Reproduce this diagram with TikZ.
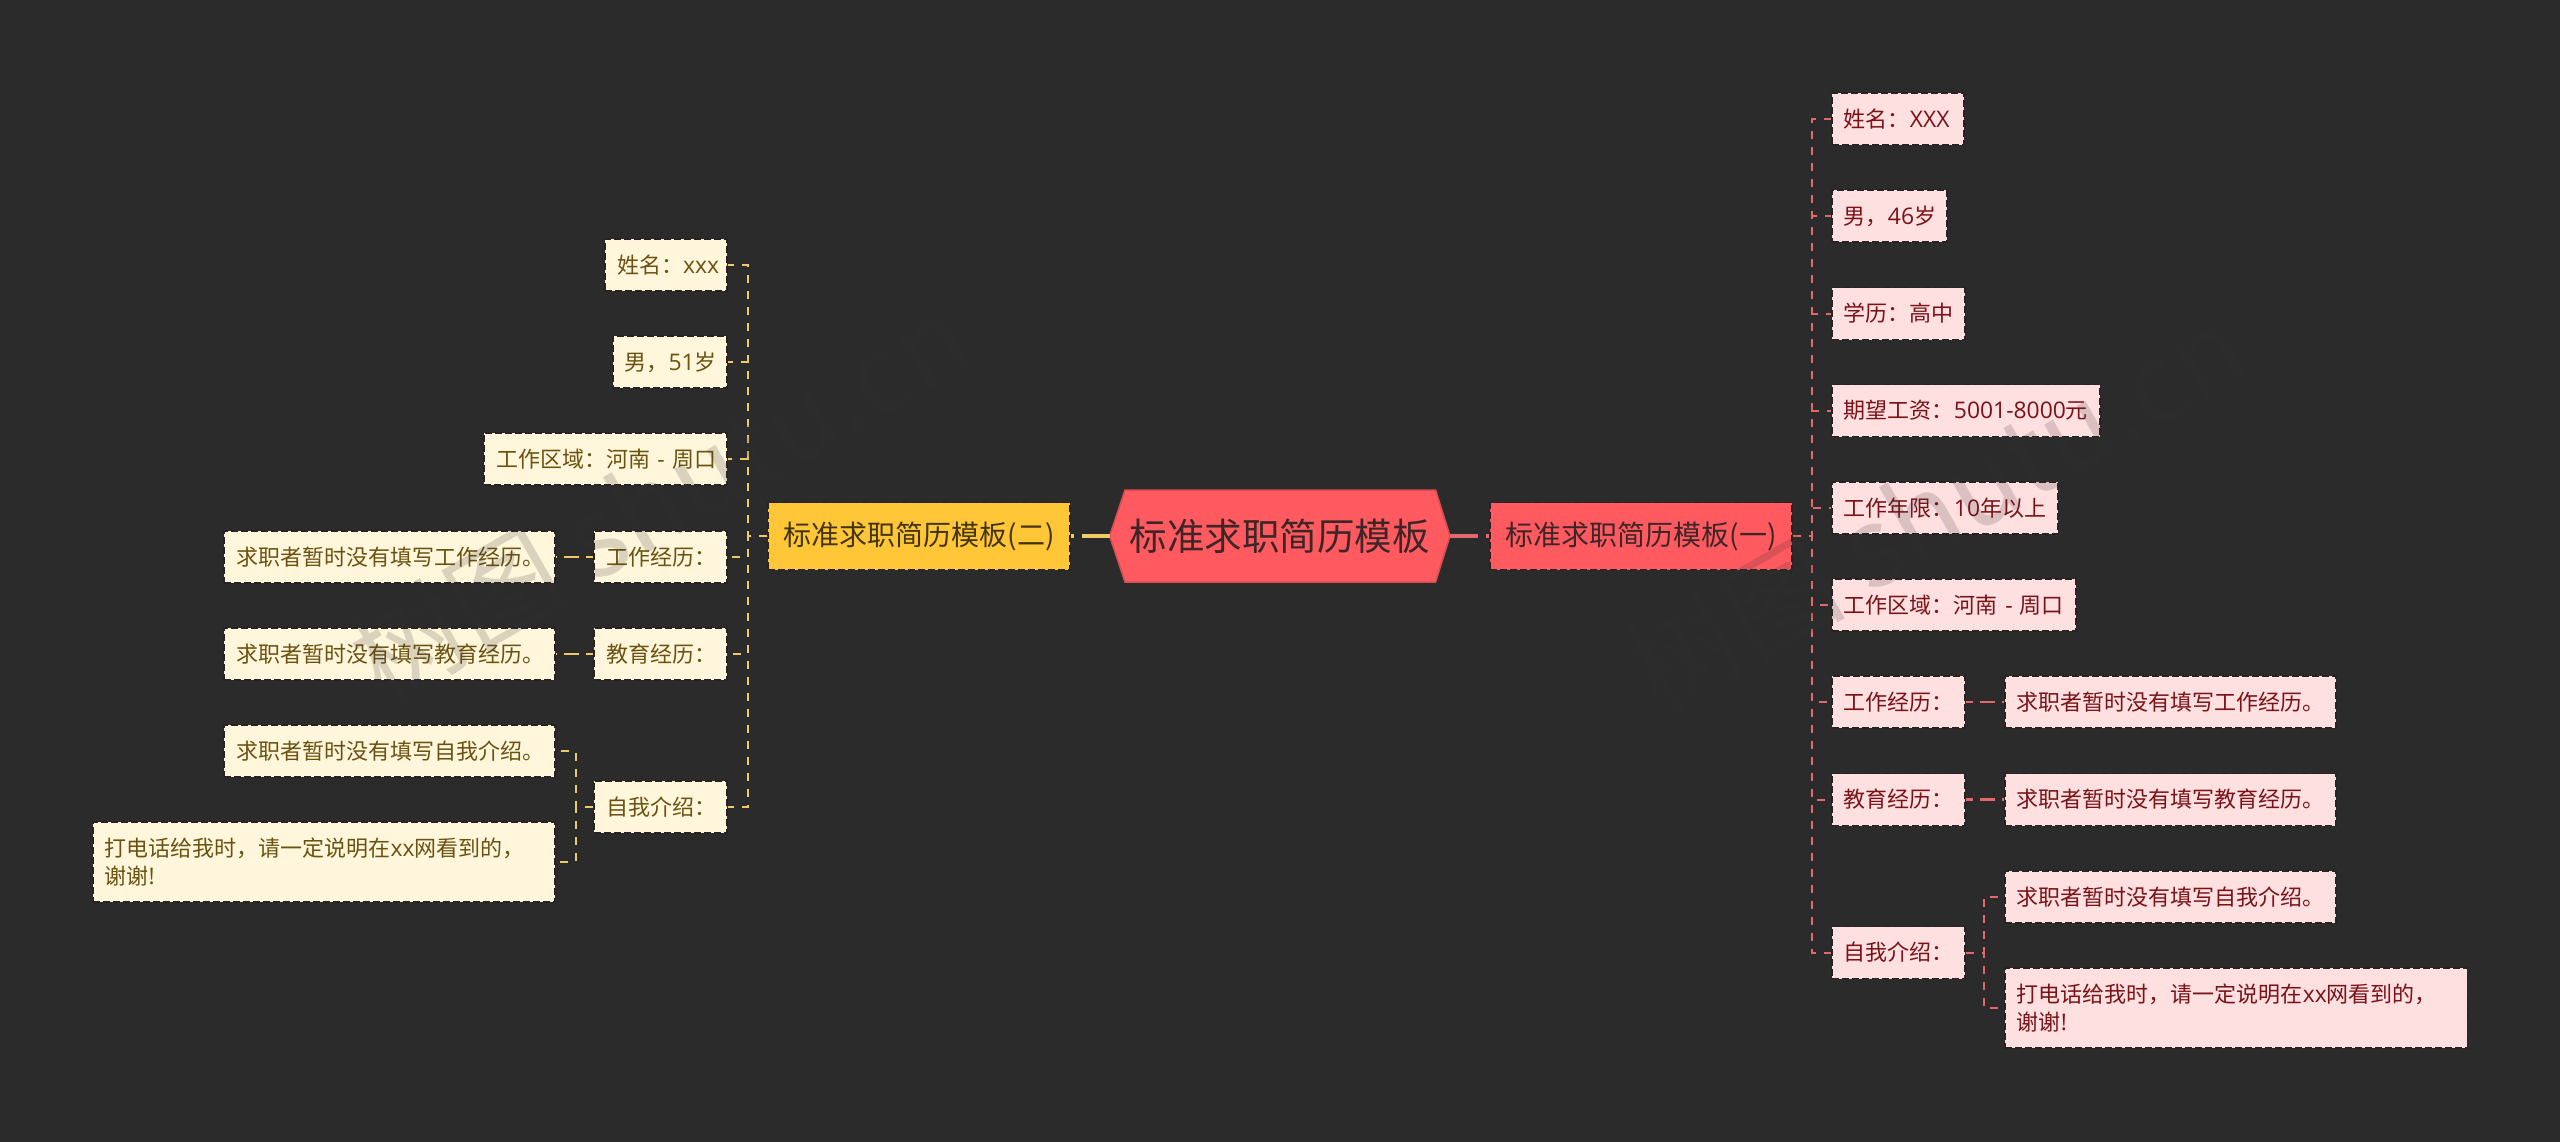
\documentclass[tikz,border=0pt]{standalone}
\usepackage{fontspec}
\setmainfont{Noto Sans CJK SC}
\newfontfamily\latinf[Scale=1.04]{Open Sans}
\newcommand{\lat}[1]{{\latinf #1}}
\definecolor{bgc}{HTML}{2B2B2B}
\definecolor{pinkfill}{HTML}{FFE0E0}
\definecolor{pinktext}{HTML}{7A1218}
\definecolor{pinkline}{HTML}{E2686C}
\definecolor{yelfill}{HTML}{FFF6DC}
\definecolor{yeltext}{HTML}{6B5210}
\definecolor{yelline}{HTML}{EFC968}
\definecolor{rootfill}{HTML}{FF5A5F}
\definecolor{roottext}{HTML}{3E2628}
\definecolor{twofill}{HTML}{FFC738}
\definecolor{twotext}{HTML}{443510}
\definecolor{edgedark}{HTML}{2A2222}
\definecolor{wmgray}{HTML}{333333}
\tikzset{
  x=1pt,y=-1pt,
  boxbase/.style={draw=edgedark,line width=1.8pt,dash pattern=on 7pt off 3pt,inner sep=0pt,minimum height=52pt,
    font=\fontsize{22}{28}\selectfont},
  boxw/.style={minimum width=#1pt,text width={#1pt-24pt},align=left},
  pinkbox/.style={boxbase,fill=pinkfill,text=pinktext,anchor=west},
  yelbox/.style={boxbase,fill=yelfill,text=yeltext,anchor=east},
  rootnode/.style={inner sep=0pt,minimum width=340pt,minimum height=92pt,text=roottext,font=\fontsize{37.5}{40}\selectfont},
  branchone/.style={boxbase,fill=rootfill,text=roottext,minimum width=302pt,minimum height=67pt,font=\fontsize{28}{30}\selectfont},
  branchtwo/.style={boxbase,fill=twofill,text=twotext,minimum width=302pt,minimum height=67pt,font=\fontsize{28}{30}\selectfont},
  pinkconn/.style={draw=pinkline,line width=2pt,dash pattern=on 8pt off 8pt},
  yelconn/.style={draw=yelline,line width=2pt,dash pattern=on 8pt off 8pt},
  pinkstub/.style={draw=pinkline,line width=2.4pt,dash pattern=on 15pt off 7pt,dash phase=8pt},
  yelstub/.style={draw=yelline,line width=2.4pt,dash pattern=on 15pt off 7pt,dash phase=8pt},
  rootlink/.style={line width=3.4pt,dash pattern=on 28pt off 8pt},
  wmark/.style={text=wmgray,opacity=.18,rotate=30,font=\fontsize{110}{116}\selectfont}
}
\begin{document}
\begin{tikzpicture}
\useasboundingbox (0,0) rectangle (2560,1142);
\fill[bgc] (0,0) rectangle (2560,1142);
% root
\fill[rootfill,draw=rootfill!85!black,line width=1.5pt] (1109.6,536) -- (1125,490) -- (1435.6,490) -- (1450,536) -- (1435.6,582) -- (1125,582) -- cycle;
\node[rootnode] (root) at (1279.8,536) {标准求职简历模板};
\node[branchone] (one) at (1641,536) {标准求职简历模板(一)};
\node[branchtwo] (two) at (919.3,536) {标准求职简历模板(二)};
\coordinate (busR) at (1811.7,536);
\coordinate (busL) at (748,536);
% right side
\node[pinkbox,boxw=132] (r1) at (1831,119) {姓名：\lat{XXX}};
\node[pinkbox,boxw=115] (r2) at (1831,216) {男，\lat{46}岁};
\node[pinkbox,boxw=133] (r3) at (1831,313.5) {学历：高中};
\node[pinkbox,boxw=268] (r4) at (1831,410.5) {\mbox{期望工资：\lat{5001-8000}元}};
\node[pinkbox,boxw=226] (r5) at (1831,508) {\mbox{工作年限：\lat{10}年以上}};
\node[pinkbox,boxw=244] (r6) at (1831,605) {\mbox{工作区域：河南\lat{ - }周口}};
\node[pinkbox,boxw=133] (r7) at (1831,702) {工作经历：};
\node[pinkbox,boxw=133] (r8) at (1831,799.5) {教育经历：};
\node[pinkbox,boxw=133] (r9) at (1831,952.5) {自我介绍：};
\node[pinkbox,boxw=331] (r7a) at (2004,702) {求职者暂时没有填写工作经历。};
\node[pinkbox,boxw=331] (r8a) at (2004,799.5) {求职者暂时没有填写教育经历。};
\node[pinkbox,boxw=331] (r9a) at (2004,897) {求职者暂时没有填写自我介绍。};
\node[pinkbox,boxw=462.5,minimum height=80pt] (r9b) at (2004,1008) {打电话给我时，请一定说明在\lat{xx}网看到的，\\谢谢\lat{!}};
\coordinate (subR) at (1984,952.5);
% left side
\node[yelbox,boxw=122] (l1) at (728,265) {\mbox{姓名：\lat{xxx}}};
\node[yelbox,boxw=114.5] (l2) at (728,362) {\mbox{男，\lat{51}岁}};
\node[yelbox,boxw=243] (l3) at (728,459) {\mbox{工作区域：河南\lat{ - }周口}};
\node[yelbox,boxw=133] (l4) at (728,556.7) {工作经历：};
\node[yelbox,boxw=133] (l5) at (728,653.7) {教育经历：};
\node[yelbox,boxw=133] (l6) at (728,807) {自我介绍：};
\node[yelbox,boxw=331] (l4a) at (556,556.7) {求职者暂时没有填写工作经历。};
\node[yelbox,boxw=331] (l5a) at (556,653.7) {求职者暂时没有填写教育经历。};
\node[yelbox,boxw=331] (l6a) at (556,751) {求职者暂时没有填写自我介绍。};
\node[yelbox,boxw=462.5,minimum height=80pt] (l6b) at (556,862) {打电话给我时，请一定说明在\lat{xx}网看到的，\\谢谢\lat{!}};
\coordinate (subL) at (575.5,807);
% root links
\draw[rootlink,draw=pinkline] (root.east) -- (one.west);
\draw[rootlink,draw=yelline] (root.west) -- (two.east);
% right connectors
\foreach \c in {r1,r2,r3,r4,r5,r6,r7,r8,r9}
  \draw[pinkconn] (one.east) -- (busR) |- (\c.west);
\draw[pinkstub] (r7.east) -- (r7a.west);
\draw[pinkstub] (r8.east) -- (r8a.west);
\draw[pinkconn] (r9.east) -- (subR) |- (r9a.west);
\draw[pinkconn] (r9.east) -- (subR) |- (r9b.west);
% left connectors
\foreach \c in {l1,l2,l3,l4,l5,l6}
  \draw[yelconn] (two.west) -- (busL) |- (\c.east);
\draw[yelstub] (l4.west) -- (l4a.east);
\draw[yelstub] (l5.west) -- (l5a.east);
\draw[yelconn] (l6.west) -- (subL) |- (l6a.east);
\draw[yelconn] (l6.west) -- (subL) |- (l6b.east);
% watermarks
\node[wmark] (wm1) at (660,498) {树图 shutu.cn};
\node[wmark] (wm2) at (1936,508) {树图 shutu.cn};
\end{tikzpicture}
\end{document}
